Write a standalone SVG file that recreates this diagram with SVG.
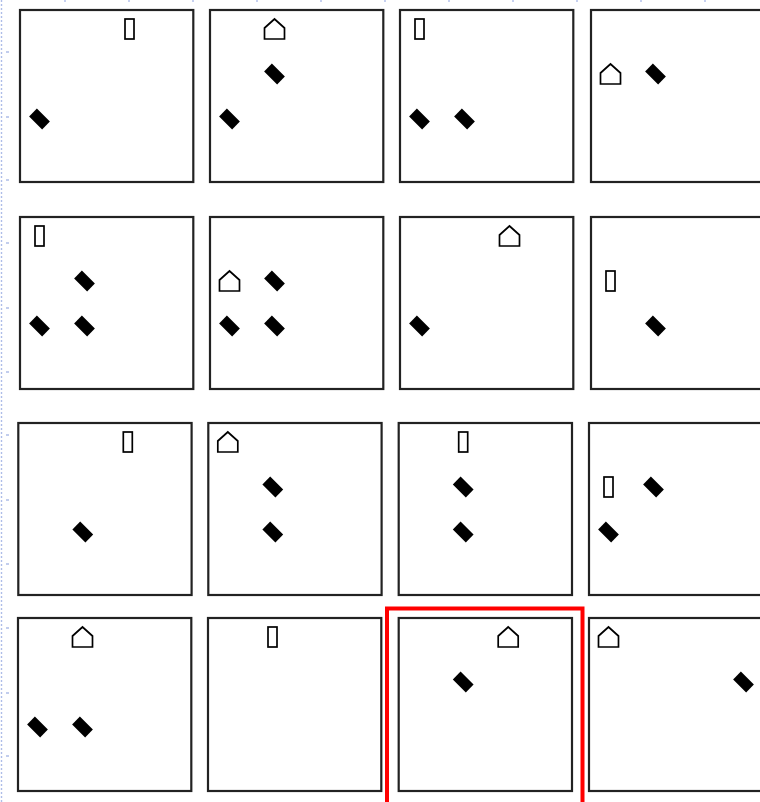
<svg xmlns="http://www.w3.org/2000/svg" xmlns:xlink="http://www.w3.org/1999/xlink" width="760" height="802" viewBox="0 0 760 802">
<style>
.frame{fill:#ffffff;stroke:#222;stroke-width:2.2}
.dia{fill:#000}
.bar,.house{fill:#fff;stroke:#000;stroke-width:1.7}
.guide{stroke:#aebde8;stroke-width:1.4;fill:none}
.sel{fill:none;stroke:#ff0000;stroke-width:4}
</style>
<defs>
<rect id="dia" class="dia" x="-9.2" y="-5.5" width="18.4" height="11" transform="rotate(45)"/>
<rect id="bar" class="bar" x="-4.5" y="-10" width="9" height="20"/>
<path id="house" class="house" d="M-10,-1 L0,-10 L10,-1 L10,10 L-10,10 Z"/>
</defs>
<rect width="760" height="802" fill="#fff"/>
<g id="guides">
<line class="guide" x1="1.5" y1="0" x2="1.5" y2="802" stroke-dasharray="2 2"/>
<path class="guide" d="M6,52h3M6,117h3M6,180h3M6,243h3M6,308h3M6,372h3M6,435h3M6,500h3M6,564h3M6,628h3M6,693h3M6,756h3M65,0v2M129,0v2M193,0v2M257,0v2M321,0v2M385,0v2M449,0v2M513,0v2M577,0v2M641,0v2M705,0v2"/>
</g>
<g id="p1" transform="translate(19,9)"><rect class="frame" x="1" y="1" width="173.3" height="172"/>
<use href="#bar" x="110.5" y="20"/><use href="#dia" x="20.5" y="110"/></g>
<g id="p2" transform="translate(209,9)"><rect class="frame" x="1" y="1" width="173.3" height="172"/>
<use href="#house" x="65.5" y="20"/><use href="#dia" x="65.5" y="65"/><use href="#dia" x="20.5" y="110"/></g>
<g id="p3" transform="translate(399,9)"><rect class="frame" x="1" y="1" width="173.3" height="172"/>
<use href="#bar" x="20.5" y="20"/><use href="#dia" x="20.5" y="110"/><use href="#dia" x="65.5" y="110"/></g>
<g id="p4" transform="translate(590,9)"><rect class="frame" x="1" y="1" width="173.3" height="172"/>
<use href="#house" x="20.5" y="65"/><use href="#dia" x="65.5" y="65"/></g>

<g id="p5" transform="translate(19,216)"><rect class="frame" x="1" y="1" width="173.3" height="172"/>
<use href="#bar" x="20.5" y="20"/><use href="#dia" x="65.5" y="65"/><use href="#dia" x="20.5" y="110"/><use href="#dia" x="65.5" y="110"/></g>
<g id="p6" transform="translate(209,216)"><rect class="frame" x="1" y="1" width="173.3" height="172"/>
<use href="#house" x="20.5" y="65"/><use href="#dia" x="65.5" y="65"/><use href="#dia" x="20.5" y="110"/><use href="#dia" x="65.5" y="110"/></g>
<g id="p7" transform="translate(399,216)"><rect class="frame" x="1" y="1" width="173.3" height="172"/>
<use href="#house" x="110.5" y="20"/><use href="#dia" x="20.5" y="110"/></g>
<g id="p8" transform="translate(590,216)"><rect class="frame" x="1" y="1" width="173.3" height="172"/>
<use href="#bar" x="20.5" y="65"/><use href="#dia" x="65.5" y="110"/></g>

<g id="p9" transform="translate(17.3,422)"><rect class="frame" x="1" y="1" width="173.3" height="172"/>
<use href="#bar" x="110.5" y="20"/><use href="#dia" x="65.5" y="110"/></g>
<g id="p10" transform="translate(207.3,422)"><rect class="frame" x="1" y="1" width="173.3" height="172"/>
<use href="#house" x="20.5" y="20"/><use href="#dia" x="65.5" y="65"/><use href="#dia" x="65.5" y="110"/></g>
<g id="p11" transform="translate(397.7,422)"><rect class="frame" x="1" y="1" width="173.3" height="172"/>
<use href="#bar" x="65.5" y="20"/><use href="#dia" x="65.5" y="65"/><use href="#dia" x="65.5" y="110"/></g>
<g id="p12" transform="translate(588,422)"><rect class="frame" x="1" y="1" width="173.3" height="172"/>
<use href="#bar" x="20.5" y="65"/><use href="#dia" x="65.5" y="65"/><use href="#dia" x="20.5" y="110"/></g>

<g id="p13" transform="translate(17,617)"><rect class="frame" x="1" y="1" width="173.3" height="173"/>
<use href="#house" x="65.5" y="20"/><use href="#dia" x="20.5" y="110"/><use href="#dia" x="65.5" y="110"/></g>
<g id="p14" transform="translate(207,617)"><rect class="frame" x="1" y="1" width="173.3" height="173"/>
<use href="#bar" x="65.5" y="20"/></g>
<g id="p15" transform="translate(397.7,617)"><rect class="frame" x="1" y="1" width="173.3" height="173"/>
<use href="#house" x="110.5" y="20"/><use href="#dia" x="65.5" y="65"/></g>
<g id="p16" transform="translate(588,617)"><rect class="frame" x="1" y="1" width="173.3" height="173"/>
<use href="#house" x="20.5" y="20"/><use href="#dia" x="155.5" y="65"/></g>

<g id="selection"><rect class="sel" x="387" y="608.5" width="195.5" height="210"/></g>
</svg>
